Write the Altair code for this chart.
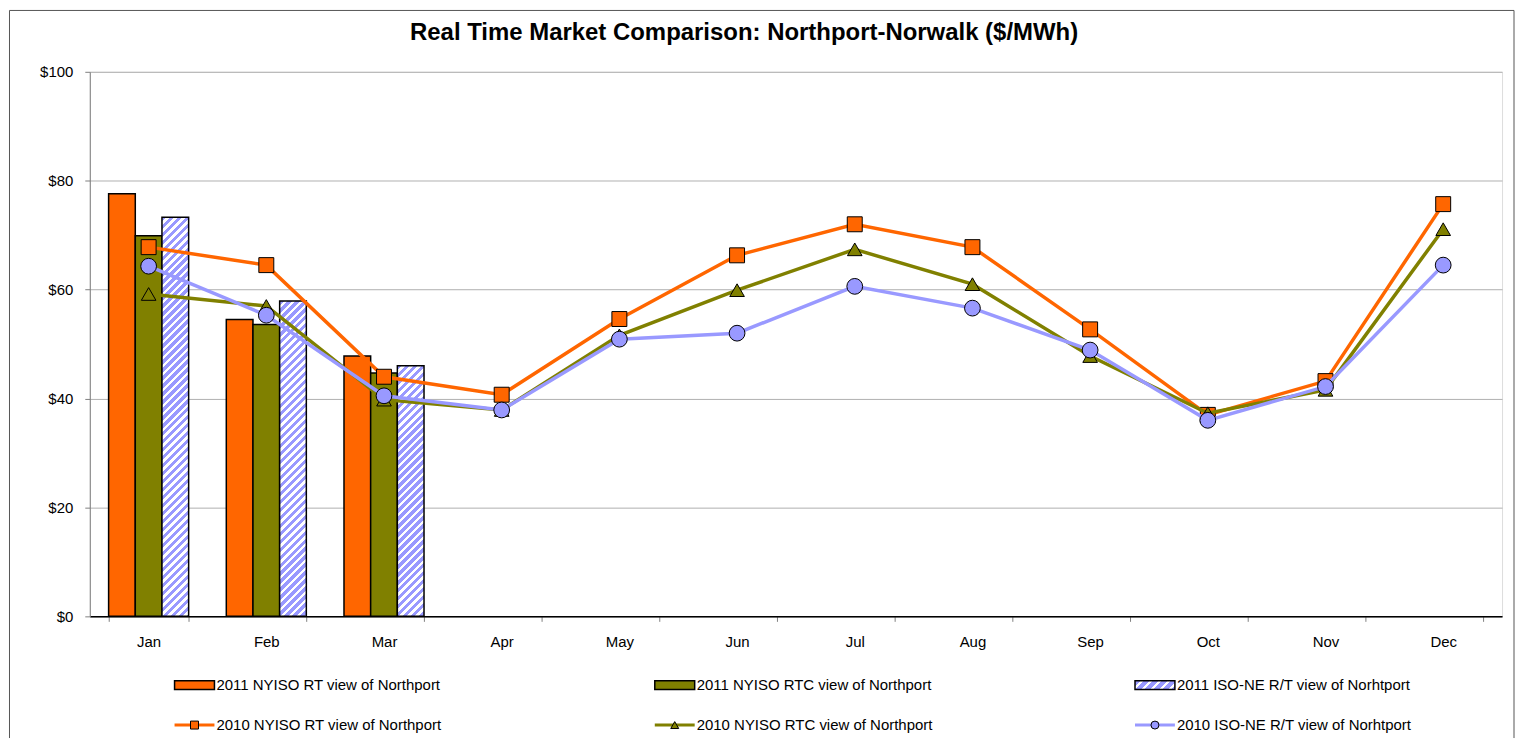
import altair as alt
import pandas as pd

# ---------------- data ----------------
months = ["Jan", "Feb", "Mar", "Apr", "May", "Jun", "Jul", "Aug", "Sep", "Oct", "Nov", "Dec"]
bar_months = ["Jan", "Feb", "Mar"]
rt_2011 = [77.6, 54.5, 47.8]
rtc_2011 = [69.9, 53.6, 44.7]
iso_2011 = [73.3, 57.9, 46.0]
rt_2010 = [67.8, 64.5, 44.0, 40.7, 54.6, 66.3, 72.0, 67.8, 52.7, 37.0, 43.2, 75.7]
rtc_2010 = [59.2, 57.0, 39.8, 37.9, 51.6, 59.9, 67.4, 61.0, 47.8, 37.3, 41.6, 71.1]
iso_2010 = [64.3, 55.3, 40.5, 37.9, 50.9, 52.0, 60.6, 56.6, 48.9, 36.0, 42.2, 64.5]

S_RT11 = "2011 NYISO RT view of Northport"
S_RTC11 = "2011 NYISO RTC view of Northport"
S_ISO11 = "2011 ISO-NE R/T view of Norhtport"
S_RT10 = "2010 NYISO RT view of Northport"
S_RTC10 = "2010 NYISO RTC view of Northport"
S_ISO10 = "2010 ISO-NE R/T view of Norhtport"

TITLE = "Real Time Market Comparison: Northport-Norwalk ($/MWh)"

# ---------------- styles ----------------
FONT = "Liberation Sans"
ORANGE = "#FF6600"
OLIVE = "#808000"
BLUE = "#9999FF"
W, H = 1416, 546
PAD_INNER = 0.32
STRIPE = 8.0


def hatch(w, h, period, frac=0.55):
    """Diagonal '/' stripes as a hard-stop linear gradient in bbox units."""
    r = w / h
    s = (1 + r) / (1 + r * r)
    n = int((w + h) / period) + 1
    d = period / (w + h)
    stops = []
    for i in range(n):
        a = i * d
        b = a + d * frac
        c = a + d
        if a > 1:
            break
        stops.append(alt.GradientStop(offset=min(a, 1), color=BLUE))
        stops.append(alt.GradientStop(offset=min(b, 1), color=BLUE))
        stops.append(alt.GradientStop(offset=min(b, 1), color="white"))
        stops.append(alt.GradientStop(offset=min(c, 1), color="white"))
    return alt.LinearGradient(gradient="linear", stops=stops, x1=0, y1=0, x2=r * s, y2=s)


# ---------------- tables ----------------
bars_df = pd.DataFrame(
    [(m, S_RT11, v) for m, v in zip(bar_months, rt_2011)]
    + [(m, S_RTC11, v) for m, v in zip(bar_months, rtc_2011)]
    + [(m, S_ISO11, v) for m, v in zip(bar_months, iso_2011)],
    columns=["month", "series", "value"],
)
lines_df = pd.DataFrame(
    [(m, S_RT10, v) for m, v in zip(months, rt_2010)]
    + [(m, S_RTC10, v) for m, v in zip(months, rtc_2010)]
    + [(m, S_ISO10, v) for m, v in zip(months, iso_2010)],
    columns=["month", "series", "value"],
)

x_enc = alt.X(
    "month:N",
    sort=months,
    scale=alt.Scale(domain=months, paddingInner=PAD_INNER, paddingOuter=PAD_INNER / 2),
    axis=alt.Axis(
        title=None, labelAngle=0, tickBand="extent", domainColor="black", domainWidth=1.5,
        tickColor="#808080", tickSize=5, labelPadding=13, labelFontSize=15, labelFont=FONT,
        labelColor="black", grid=False,
    ),
)
y_enc = alt.Y(
    "value:Q",
    scale=alt.Scale(domain=[0, 100], nice=False),
    axis=alt.Axis(
        title=None, values=[0, 20, 40, 60, 80, 100], format="$.0f", grid=True,
        gridColor="#B0B0B0", domainColor="#808080", tickColor="#808080", tickSize=5,
        labelPadding=12, labelFontSize=15, labelFont=FONT, labelColor="black",
    ),
)
xoff = alt.XOffset("series:N", scale=alt.Scale(domain=[S_RT11, S_RTC11, S_ISO11]))

bars_solid = (
    alt.Chart(bars_df)
    .transform_filter(alt.datum.series != S_ISO11)
    .mark_bar(stroke="black", strokeWidth=1.5)
    .encode(
        x=x_enc, y=y_enc, xOffset=xoff,
        fill=alt.Fill("series:N", scale=alt.Scale(domain=[S_RT11, S_RTC11], range=[ORANGE, OLIVE]), legend=None),
    )
)

bar_w = W / 12 * (1 - PAD_INNER) / 3
px_per = H / 100.0
hatched_layers = []
for m, v in zip(bar_months, iso_2011):
    g = hatch(bar_w, v * px_per, STRIPE)
    hatched_layers.append(
        alt.Chart(bars_df)
        .transform_filter((alt.datum.series == S_ISO11) & (alt.datum.month == m))
        .mark_bar(fill=g, stroke="black", strokeWidth=1.5)
        .encode(x=x_enc, y=y_enc, xOffset=xoff)
    )

line_layers = []
for s, c, shp, sz in [
    (S_RT10, ORANGE, "square", 225),
    (S_RTC10, OLIVE, "triangle-up", 215),
    (S_ISO10, BLUE, "circle", 250),
]:
    base = alt.Chart(lines_df).transform_filter(alt.datum.series == s)
    line_layers.append(base.mark_line(color=c, strokeWidth=3.5).encode(x=x_enc, y=y_enc))
    line_layers.append(
        base.mark_point(shape=shp, size=sz, filled=True, fill=c, stroke="black",
                        strokeWidth=1, opacity=1).encode(x=x_enc, y=y_enc)
    )

# chart-area border (top, left, right; it runs off the bottom of the picture)
frame_df = pd.DataFrame({"k": [0]})
FR_L, FR_R, FR_T, FR_B = -80.5, W + 12, -61.5, H + 122
frame = alt.layer(
    alt.Chart(frame_df).mark_rule(color="#555555", strokeWidth=1)
    .encode(x=alt.value(FR_L), y=alt.value(FR_T), y2=alt.value(FR_B)),
    alt.Chart(frame_df).mark_rule(color="#555555", strokeWidth=1)
    .encode(x=alt.value(FR_R), y=alt.value(FR_T), y2=alt.value(FR_B)),
    alt.Chart(frame_df).mark_rule(color="#555555", strokeWidth=1)
    .encode(x=alt.value(FR_L), x2=alt.value(FR_R), y=alt.value(FR_T)),
)

main = alt.layer(frame, bars_solid, *hatched_layers, *line_layers).properties(width=W, height=H)

# ---------------- legend ----------------
leg_labels = [S_RT11, S_RTC11, S_ISO11, S_RT10, S_RTC10, S_ISO10]
leg_cols = [0, 1, 2, 0, 1, 2]
leg_rows = [0, 0, 0, 1, 1, 1]
leg_colors = [ORANGE, OLIVE, BLUE, ORANGE, OLIVE, BLUE]
leg_markers = ["", "", "", "square", "triangle-up", "circle"]
leg_df = pd.DataFrame({"label": leg_labels, "col": leg_cols, "row": leg_rows,
                       "color": leg_colors, "marker": leg_markers})

lx = alt.X("col:Q", scale=alt.Scale(domain=[0, 2], range=[105, 1068]), axis=None)
ly = alt.Y("row:Q", scale=alt.Scale(domain=[0, 1], range=[69, 109]), axis=None)
RECT_PATH = "M-1,-0.22H1V0.22H-1Z"
LINE_PATH = "M-1,-0.075H1V0.075H-1Z"

leg_base = alt.Chart(leg_df)
leg_solid = (
    leg_base.transform_filter((alt.datum.row == 0) & (alt.datum.col < 2))
    .mark_point(shape=RECT_PATH, size=1600, filled=True, stroke="black", strokeWidth=1.5, opacity=1)
    .encode(x=lx, y=ly, fill=alt.Fill("color:N", scale=None))
)
leg_hatch = (
    leg_base.transform_filter((alt.datum.row == 0) & (alt.datum.col == 2))
    .mark_point(shape=RECT_PATH, size=1600, filled=True, fill=hatch(40, 8.8, 9, 0.6),
                stroke="black", strokeWidth=1.5, opacity=1)
    .encode(x=lx, y=ly)
)
leg_line = (
    leg_base.transform_filter(alt.datum.row == 1)
    .mark_point(shape=LINE_PATH, size=1600, filled=True, strokeWidth=0, opacity=1)
    .encode(x=lx, y=ly, fill=alt.Fill("color:N", scale=None))
)
leg_mark = (
    leg_base.transform_filter(alt.datum.row == 1)
    .mark_point(size=64, filled=True, stroke="black", strokeWidth=1, opacity=1)
    .encode(x=lx, y=ly, fill=alt.Fill("color:N", scale=None), shape=alt.Shape("marker:N", scale=None))
)
leg_text = (
    leg_base.mark_text(align="left", baseline="middle", dx=22, fontSize=15, font=FONT, color="black")
    .encode(x=lx, y=ly, text="label:N")
)
legend = alt.layer(leg_solid, leg_hatch, leg_line, leg_mark, leg_text).properties(
    width=W, height=114, view=alt.ViewBackground(strokeOpacity=0)
)

chart = (
    alt.vconcat(
        main, legend, spacing=0, bounds="flush",
        title=alt.TitleParams(TITLE, font=FONT, fontSize=24, fontWeight="bold", color="black",
                              anchor="middle", frame="group", dx=-52, offset=-36),
    )
    .properties(padding=0)
    .configure_view(stroke="#8C8C8C", strokeWidth=1)
    .configure(font=FONT)
)

chart.save("out.html", embed_options={"renderer": "svg", "actions": False})
